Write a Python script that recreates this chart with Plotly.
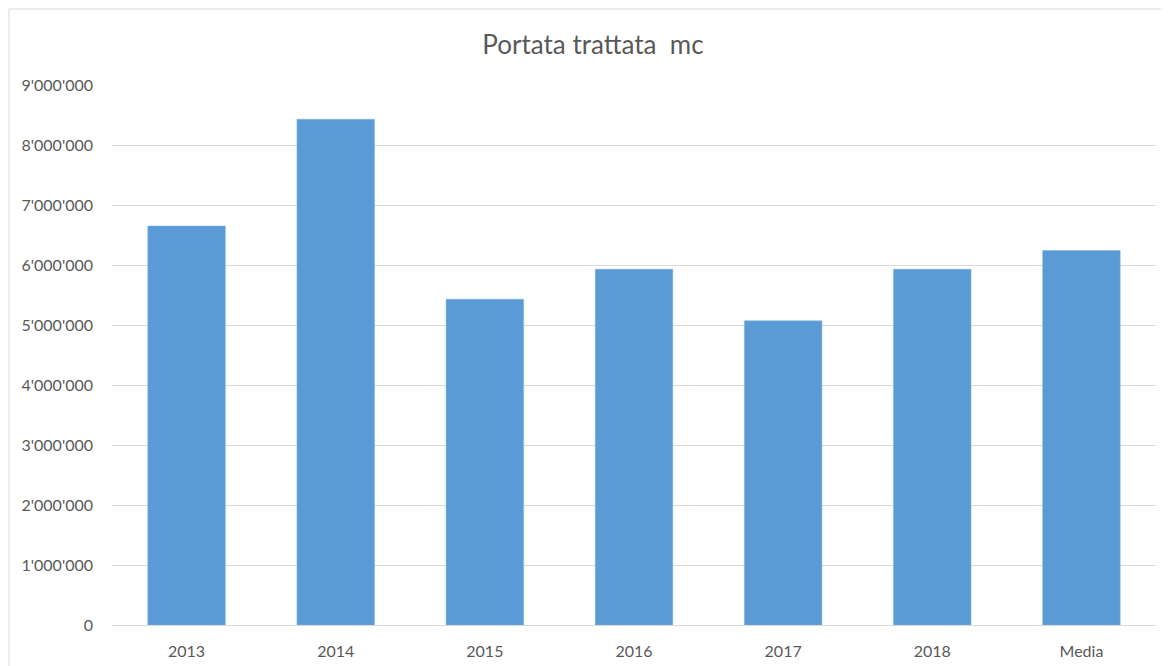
import plotly.graph_objects as go

categories = ["2013", "2014", "2015", "2016", "2017", "2018", "Media"]
values = [6650000, 8430000, 5430000, 5930000, 5070000, 5930000, 6240000]
y_ticks = [0, 1000000, 2000000, 3000000, 4000000, 5000000, 6000000, 7000000, 8000000, 9000000]

OFF = 8  # default body margin of the html page
PAGE_W, PAGE_H = 1169, 666
W, H = PAGE_W - OFF, PAGE_H - OFF
L, R, T, B = 112 - OFF, 13, 85 - OFF, 41
pw, ph = W - L - R, H - T - B

fig = go.Figure(go.Bar(
    x=categories, y=values,
    marker=dict(color="#5B9BD5", line=dict(color="#7fb2e0", width=0.5)),
    width=0.52,
))

font_fam = "Lato, 'Open Sans', sans-serif"
fig.update_layout(
    width=W, height=H,
    margin=dict(l=L, r=R, t=T, b=B),
    paper_bgcolor="white", plot_bgcolor="white",
    separators=".'",
    showlegend=False,
    title=dict(text="Portata trattata\u00a0\u00a0mc", x=(593 - OFF) / W, xanchor="center",
               y=1 - (45 - OFF) / H, yanchor="middle",
               font=dict(family=font_fam, size=26, color="#595959")),
    font=dict(family=font_fam, size=16, color="#595959"),
    xaxis=dict(showgrid=False, showline=True, linecolor="#d9d9d9", linewidth=1,
               ticks="", ticklabelstandoff=12, automargin=False,
               tickfont=dict(size=16, color="#595959")),
    yaxis=dict(range=[0, 9000000], tickvals=y_ticks, tickformat=",d",
               showgrid=True, gridcolor="#d9d9d9", gridwidth=1,
               zeroline=False, showline=False, ticks="",
               ticklabelstandoff=18, automargin=False,
               tickfont=dict(size=16, color="#595959")),
)

# chart frame (partially cropped in the reference)
x_left = (9 - OFF - L) / pw
y_top = 1 + (T - (9 - OFF)) / ph
fig.add_shape(type="line", xref="paper", yref="paper",
              x0=x_left, x1=(W + 5 - L) / pw, y0=y_top, y1=y_top,
              line=dict(color="#d9d9d9", width=1))
fig.add_shape(type="line", xref="paper", yref="paper",
              x0=x_left, x1=x_left, y0=y_top, y1=-(B + 5) / ph,
              line=dict(color="#d9d9d9", width=1))

fig.write_html("out.html")
